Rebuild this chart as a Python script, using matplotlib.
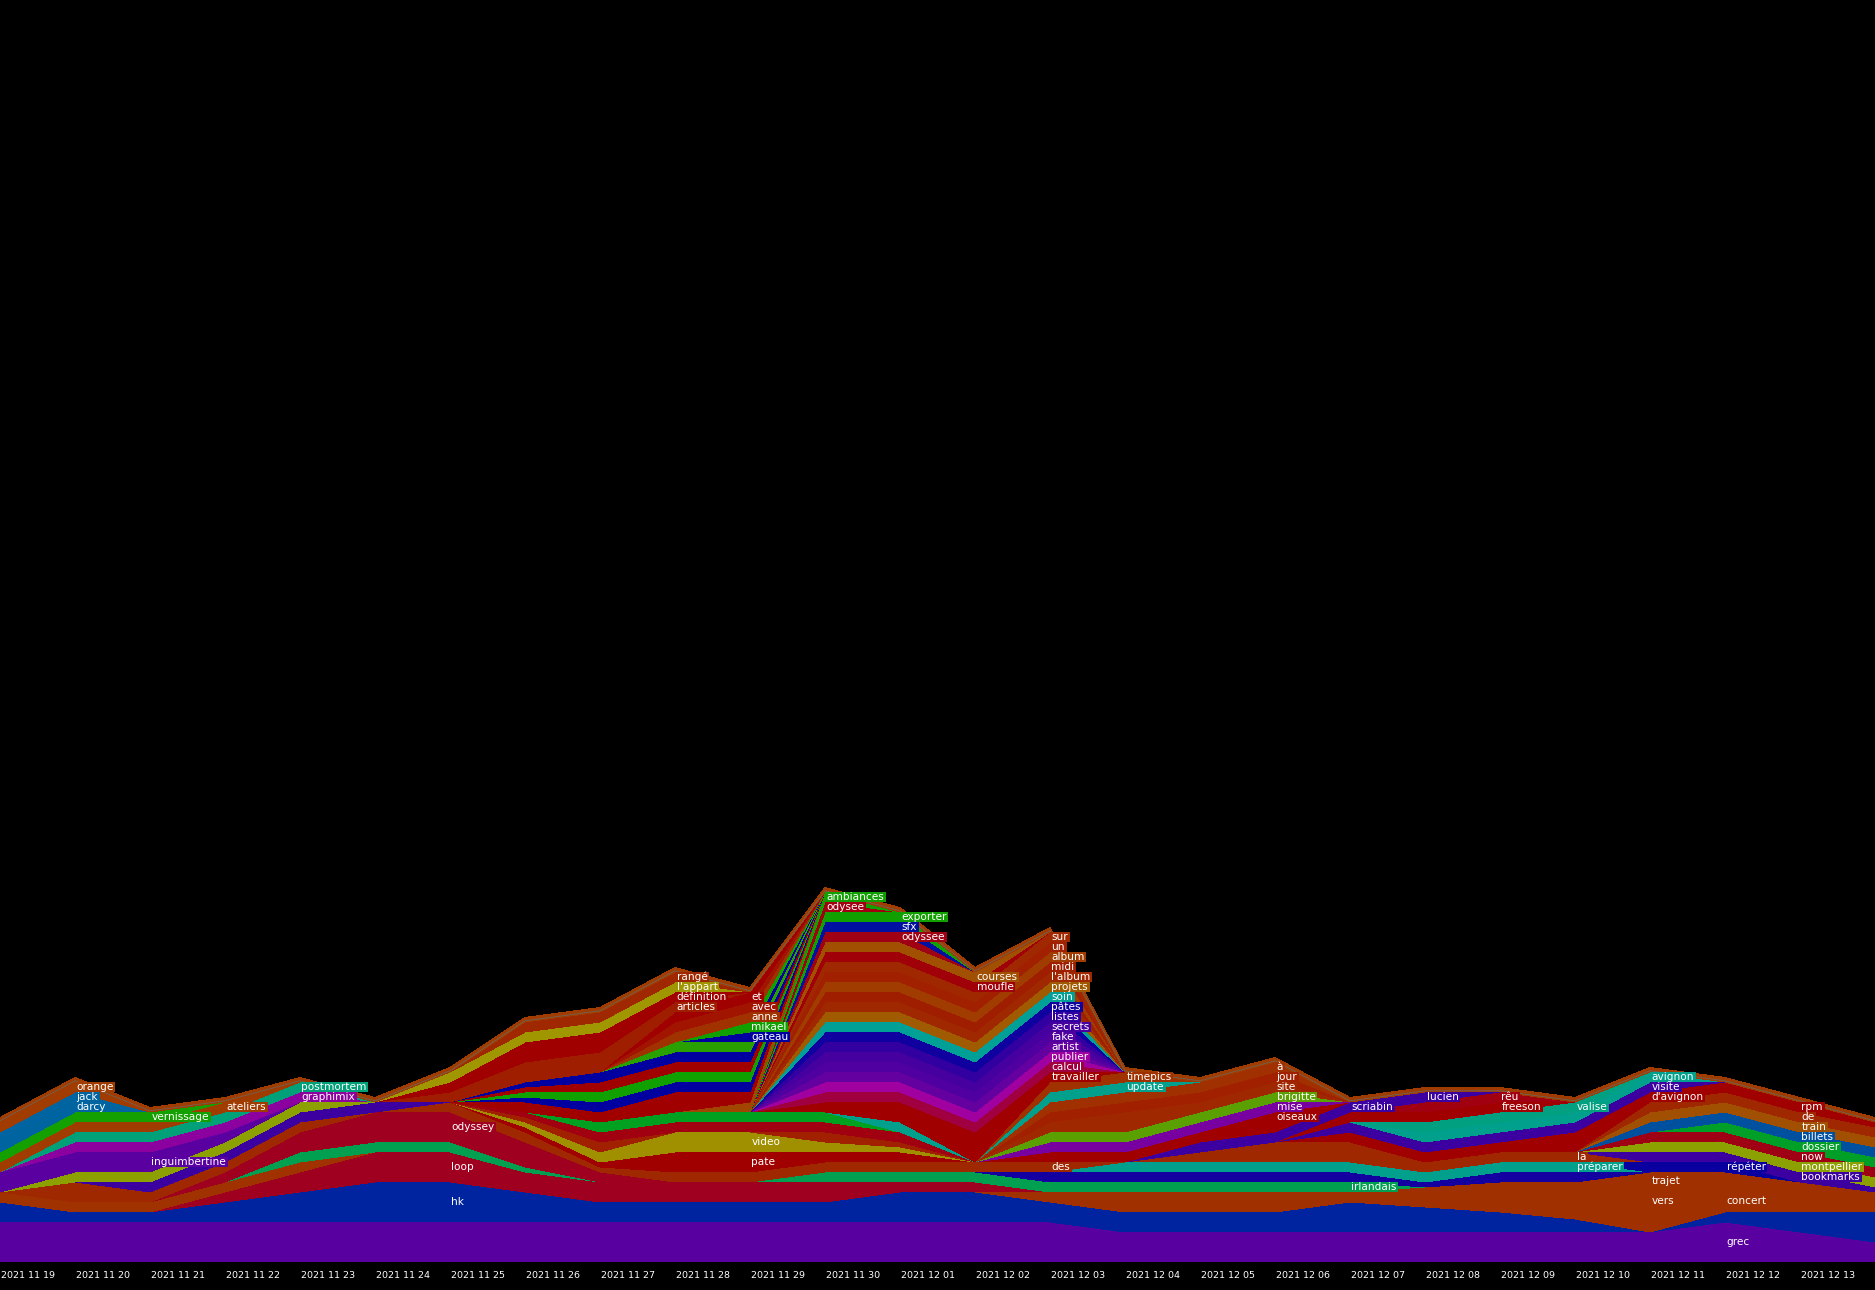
import matplotlib
matplotlib.use("Agg")
import matplotlib.pyplot as plt
from matplotlib.patches import Rectangle
import numpy as np

N_DAYS = 26
DATES = ["2021 11 19", "2021 11 20", "2021 11 21", "2021 11 22", "2021 11 23",
         "2021 11 24", "2021 11 25", "2021 11 26", "2021 11 27", "2021 11 28",
         "2021 11 29", "2021 11 30", "2021 12 01", "2021 12 02", "2021 12 03",
         "2021 12 04", "2021 12 05", "2021 12 06", "2021 12 07", "2021 12 08",
         "2021 12 09", "2021 12 10", "2021 12 11", "2021 12 12", "2021 12 13"]


def seg(start, vals):
    out = [0.0] * N_DAYS
    for i, v in enumerate(vals):
        out[start + i] = v
    return out


# ---- word counts per day (one series per word) ----
grec = [4, 4, 4, 4, 4, 4, 4, 4, 4, 4, 4, 4, 4, 4, 4, 3, 3, 3, 3, 3, 3, 3, 3, 4, 3, 2]
hk = [2, 1, 1, 2, 3, 4, 4, 3, 2, 2, 2, 2, 3, 3, 2, 2, 2, 2, 3, 2.5, 2, 1.3, 0, 1, 2, 3]
concert = seg(21, [0, 2, 2.2, 2, 2])
vers = seg(13, [0, 1, 2, 2, 2, 1, 2, 3, 3.7, 2.2, 1, 1, 0])
loop = seg(2, [0, 1, 2, 3, 3, 2, 2, 2, 2, 2, 1, 1, 0])
brown_a = seg(0, [1, 1, 1, 1, 1, 0])
irlandais = seg(3, [0, 1, 1, 1, 0.5, 0, 0, 0, 1, 1, 1, 1, 1, 1, 1, 1, 0])
odyssey = seg(2, [0, 1, 2, 3, 3, 2.5, 1, 0])
brown_b = seg(0, [0, 2, 1, 1, 1, 0])
trajet = seg(21, [0, 1.8, 0.8, 0])
bleu_a = seg(13, [0, 1, 1, 1, 1, 1, 0.5, 1, 1, 0])
preparer = seg(14, [0, 1, 1, 1, 1, 1, 1, 1, 0])
repeter = seg(21, [0, 1, 1, 0])
des = seg(5, [0, 1, 1, 0.5, 1, 1, 1, 1, 1, 1, 0])
pate = seg(6, [0, 0.5, 0.5, 2, 2, 1, 1, 0])
video = seg(6, [0, 0.5, 1, 2, 2, 1, 0.5, 0])
brun_d = seg(6, [0, 0.5, 1, 0, 0, 1, 0.5, 0])
rouge_d = seg(6, [0, 0.5, 1, 1, 1, 1, 1, 0])
vert_e = seg(7, [0, 1, 1, 1, 1, 0])
teal_m = seg(11, [0, 1, 0])
la = seg(15, [0, 1, 2, 2, 1, 1, 1, 0])
bookmarks = seg(21, [0, 1, 1, 1, 0.5])
montpellier = seg(21, [0, 1, 1, 1, 1])
now = seg(21, [0, 1, 1, 1, 1])
dossier = seg(21, [0, 0, 1, 1, 1])
billets = seg(21, [0, 1, 1, 1, 1])
train = seg(21, [0, 1, 1, 1, 1])
de = seg(21, [0, 1, 1, 1, 1])
rpm = seg(21, [0, 0, 1, 1, 0.5])
davignon = seg(17, [0, 1, 1, 1, 2, 1, 0])
visite = seg(17, [0, 1, 1, 1, 1, 1, 0])
avignon = seg(18, [0, 1, 1, 1, 1, 0])
valise = seg(18, [0, 1, 1, 1, 0])
freeson = seg(17, [0, 1, 1, 1, 0])
reu = seg(18, [0, 1, 1, 0])
scriabin = seg(15, [0, 1, 1, 1, 0])
rouge_o = seg(16, [0, 1, 0])
lucien = seg(18, [0, 1, 0])
oiseaux = seg(13, [0, 1, 1, 1, 1, 0])
mise = seg(13, [0, 1, 1, 1, 1, 0])
brigitte = seg(13, [0, 1, 1, 1, 1, 0])
site = seg(13, [0, 1, 2, 1, 1, 0])
jour = seg(13, [0, 1, 1, 1, 1, 0])
a_grave = seg(13, [0, 1, 1, 1, 1, 0])
update = seg(13, [0, 1, 1, 0])
timepics = seg(13, [0, 1, 1, 0])
violet_b = seg(1, [0, 1, 1, 1, 1, 0])
olive = seg(0, [0, 1, 1, 1, 1, 0])
inguimbertine = seg(0, [2, 2, 2, 1, 0])
graphimix = seg(0, [0, 1, 1, 1, 1, 0])
postmortem = seg(0, [0, 1, 1, 1, 1, 0])
ateliers = seg(0, [1, 1, 1, 1, 0])
vernissage = seg(0, [1, 1, 1, 0])
darcy = seg(0, [1, 1, 0])
jack = seg(0, [1, 1, 0])
orange = seg(0, [1, 1, 0])
travailler = seg(10, [0, 1, 2, 3, 1, 0])
calcul = seg(10, [0, 1, 1, 1, 1, 0])
publier = seg(10, [0, 1, 1, 1, 1, 0])
artist = seg(10, [0, 1, 1, 1, 1, 0])
fake = seg(10, [0, 1, 1, 1, 1, 0])
secrets = seg(10, [0, 1, 1, 1, 1, 0])
listes = seg(10, [0, 1, 1, 1, 1, 0])
pates = seg(10, [0, 1, 1, 1, 1, 0])
soin = seg(10, [0, 1, 1, 1, 1, 0])
projets = seg(10, [0, 1, 1, 1, 1, 0])
lalbum = seg(10, [0, 1, 1, 1, 1, 0])
midi = seg(10, [0, 1, 1, 1, 1, 0])
album = seg(10, [0, 1, 1, 1, 1, 0])
un = seg(10, [0, 1, 1, 1, 1, 0])
sur = seg(10, [0, 1, 1, 1, 1, 0])
moufle = seg(10, [0, 1, 1, 1, 0])
courses = seg(10, [0, 1, 1, 1, 0])
odyssee = seg(10, [0, 1, 1, 0])
sfx = seg(10, [0, 1, 1, 0])
exporter = seg(10, [0, 1, 1, 0])
odysee = seg(10, [0, 1, 0])
ambiances = seg(10, [0, 1, 0])
brun_f = seg(9, [0, 1, 0])
rouge_1 = seg(6, [0, 1, 1, 2, 1, 0])
bleu_1 = seg(6, [0, 0.5, 1, 1, 1, 0])
vert_1 = seg(6, [0, 0.5, 1, 1, 1, 0])
rouge_2 = seg(6, [0, 0.5, 1, 1, 1, 0])
bleu_2 = seg(6, [0, 0.5, 1, 1, 1, 0])
vert_2 = seg(7, [0, 0, 1, 1, 0])
gateau = seg(9, [0, 1, 0])
mikael = seg(9, [0, 1, 0])
anne = seg(8, [0, 1, 1, 0])
avec = seg(8, [0, 1, 1, 0])
et = seg(8, [0, 1, 1, 0])
articles = seg(5, [0, 1, 2, 2, 1, 0])
definition = seg(5, [0, 1, 2, 2, 1, 0])
lappart = seg(5, [0, 1, 1, 1, 1, 0])
range_ = seg(6, [0, 1, 1, 1, 0])

# stacking order (bottom -> top): (label, series, colour)
LAYERS = [
    ("grec", grec, "#5800a0"), ("hk", hk, "#0024a0"),
    ("concert", concert, "#a03000"), ("vers", vers, "#a03000"),
    ("loop", loop, "#a00020"), ("", brown_a, "#a03200"),
    ("irlandais", irlandais, "#00a050"), ("odyssey", odyssey, "#a00020"),
    ("", brown_b, "#a02800"), ("trajet", trajet, "#a03000"),
    ("", bleu_a, "#1400a0"), ("préparer", preparer, "#00a08c"),
    ("répéter", repeter, "#0a00a0"), ("des", des, "#a02800"),
    ("pate", pate, "#a00000"), ("video", video, "#a09000"),
    ("", brun_d, "#a02000"), ("", rouge_d, "#a00010"),
    ("", vert_e, "#00a020"), ("", teal_m, "#00a08c"),
    ("la", la, "#a02800"),
    ("bookmarks", bookmarks, "#3c00a0"), ("montpellier", montpellier, "#8ca000"),
    ("now", now, "#a00014"), ("dossier", dossier, "#00a028"),
    ("billets", billets, "#0050a0"), ("train", train, "#a05000"),
    ("de", de, "#a02800"), ("rpm", rpm, "#a00000"),
    ("d'avignon", davignon, "#a00000"), ("visite", visite, "#3c00a0"),
    ("avignon", avignon, "#00a08c"), ("valise", valise, "#00a080"),
    ("freeson", freeson, "#a00000"), ("rêu", reu, "#a00010"),
    ("scriabin", scriabin, "#3c00a0"), ("", rouge_o, "#a00000"),
    ("lucien", lucien, "#3c00a0"),
    ("oiseaux", oiseaux, "#a00000"), ("mise", mise, "#7800a0"),
    ("brigitte", brigitte, "#5aa000"), ("site", site, "#a02800"),
    ("jour", jour, "#a02000"), ("à", a_grave, "#a03000"),
    ("update", update, "#00a08c"), ("timepics", timepics, "#a03200"),
    ("", violet_b, "#3c00a0"), ("", olive, "#8ca000"),
    ("inguimbertine", inguimbertine, "#5a00a0"), ("graphimix", graphimix, "#8c00a0"),
    ("postmortem", postmortem, "#00a078"), ("ateliers", ateliers, "#a03c00"),
    ("vernissage", vernissage, "#14a000"), ("darcy", darcy, "#0064a0"),
    ("jack", jack, "#0064a0"), ("orange", orange, "#a03c00"),
    ("travailler", travailler, "#a00000"), ("calcul", calcul, "#a00040"),
    ("publier", publier, "#a000a0"), ("artist", artist, "#6400a0"),
    ("fake", fake, "#5000a0"), ("secrets", secrets, "#4600a0"),
    ("listes", listes, "#3200a0"), ("pâtes", pates, "#1000a0"),
    ("soin", soin, "#00a096"), ("projets", projets, "#a05a00"),
    ("l'album", lalbum, "#a02800"), ("midi", midi, "#a01e00"),
    ("album", album, "#a03c00"), ("un", un, "#a02000"),
    ("sur", sur, "#a02800"), ("moufle", moufle, "#a00008"),
    ("courses", courses, "#a05000"), ("odyssee", odyssee, "#a00014"),
    ("sfx", sfx, "#0010a0"), ("exporter", exporter, "#10a000"),
    ("odysee", odysee, "#a00010"), ("ambiances", ambiances, "#10a000"),
    ("", brun_f, "#a04600"), ("", rouge_1, "#a00000"),
    ("", bleu_1, "#0000a0"), ("", vert_1, "#10a000"),
    ("", rouge_2, "#a00000"), ("", bleu_2, "#0000a0"),
    ("", vert_2, "#28a000"), ("gateau", gateau, "#0000a0"),
    ("mikael", mikael, "#10a000"), ("anne", anne, "#a03200"),
    ("avec", avec, "#a01400"), ("et", et, "#a00000"),
    ("articles", articles, "#a01e00"), ("définition", definition, "#a00000"),
    ("l'appart", lappart, "#a09600"), ("rangé", range_, "#a02800"),
]

# where each word's label is written (day index)
LABEL_DAYS = {
    "orange": 1, "jack": 1, "darcy": 1, "vernissage": 2, "inguimbertine": 2,
    "ateliers": 3, "postmortem": 4, "graphimix": 4, "odyssey": 6, "loop": 6,
    "hk": 6, "rangé": 9, "l'appart": 9, "définition": 9, "articles": 9,
    "et": 10, "avec": 10, "anne": 10, "mikael": 10, "gateau": 10,
    "video": 10, "pate": 10, "ambiances": 11, "odysee": 11, "exporter": 12,
    "sfx": 12, "odyssee": 12, "courses": 13, "moufle": 13, "sur": 14,
    "un": 14, "album": 14, "midi": 14, "l'album": 14, "projets": 14,
    "soin": 14, "pâtes": 14, "listes": 14, "secrets": 14, "fake": 14,
    "artist": 14, "publier": 14, "calcul": 14, "travailler": 14, "des": 14,
    "timepics": 15, "update": 15, "à": 17, "jour": 17, "site": 17,
    "brigitte": 17, "mise": 17, "oiseaux": 17, "scriabin": 18,
    "irlandais": 18, "lucien": 19, "rêu": 20, "freeson": 20, "valise": 21,
    "la": 21, "préparer": 21, "avignon": 22, "visite": 22, "d'avignon": 22,
    "trajet": 22, "vers": 22, "répéter": 23, "concert": 23, "grec": 23,
    "rpm": 24, "de": 24, "train": 24, "billets": 24, "dossier": 24,
    "now": 24, "montpellier": 24, "bookmarks": 24,
}

W, H, DPI = 1875, 1290, 100
PX_DAY = 75.0      # pixels per day
PX_UNIT = 10.0     # pixels per count
BASE_PX = 1262     # baseline row

fig = plt.figure(figsize=(W / DPI, H / DPI), dpi=DPI, facecolor="black")
ax = fig.add_axes([0, (H - BASE_PX) / H, 1, BASE_PX / H])
ax.set_facecolor("black")
ax.set_xlim(0, W / PX_DAY)
ax.set_ylim(0, BASE_PX / PX_UNIT)
ax.axis("off")

x = np.arange(N_DAYS)
vals = np.array([l[1] for l in LAYERS], dtype=float)
cols = [l[2] for l in LAYERS]
cum = np.vstack([np.zeros(N_DAYS), np.cumsum(vals, axis=0)])

for i in range(len(LAYERS)):
    ax.fill_between(x, cum[i], cum[i + 1], facecolor=cols[i], edgecolor="none",
                    linewidth=0, antialiased=False, zorder=2)

top = cum[-1]
ax.fill_between(x, top, top + 0.45, facecolor="#a03c00", edgecolor="none",
                linewidth=0, antialiased=False, zorder=3)
ax.plot(x, top + 0.12, color="#6e6258", lw=0.6, zorder=3)

renderer = fig.canvas.get_renderer()
fs = 7.6
for i, (name, series, col) in enumerate(LAYERS):
    if name not in LABEL_DAYS:
        continue
    d = LABEL_DAYS[name]
    yc = (cum[i, d] + cum[i + 1, d]) / 2.0
    t = ax.text(d + 1.5 / PX_DAY, yc, name, color="white", fontsize=fs,
                family="DejaVu Sans", ha="left", va="center", zorder=6)
    bb = t.get_window_extent(renderer=renderer)
    wd = (bb.width + 3) / PX_DAY
    ax.add_patch(Rectangle((d, yc - 0.5), wd, 1.0, facecolor=col,
                           edgecolor="none", zorder=5, antialiased=False))

for d, lab in enumerate(DATES):
    ax.text(d + 1 / PX_DAY, -1.4, lab, color="white", fontsize=6.8,
            family="DejaVu Sans", ha="left", va="center", clip_on=False)

fig.savefig("out.png", dpi=DPI, facecolor="black")
